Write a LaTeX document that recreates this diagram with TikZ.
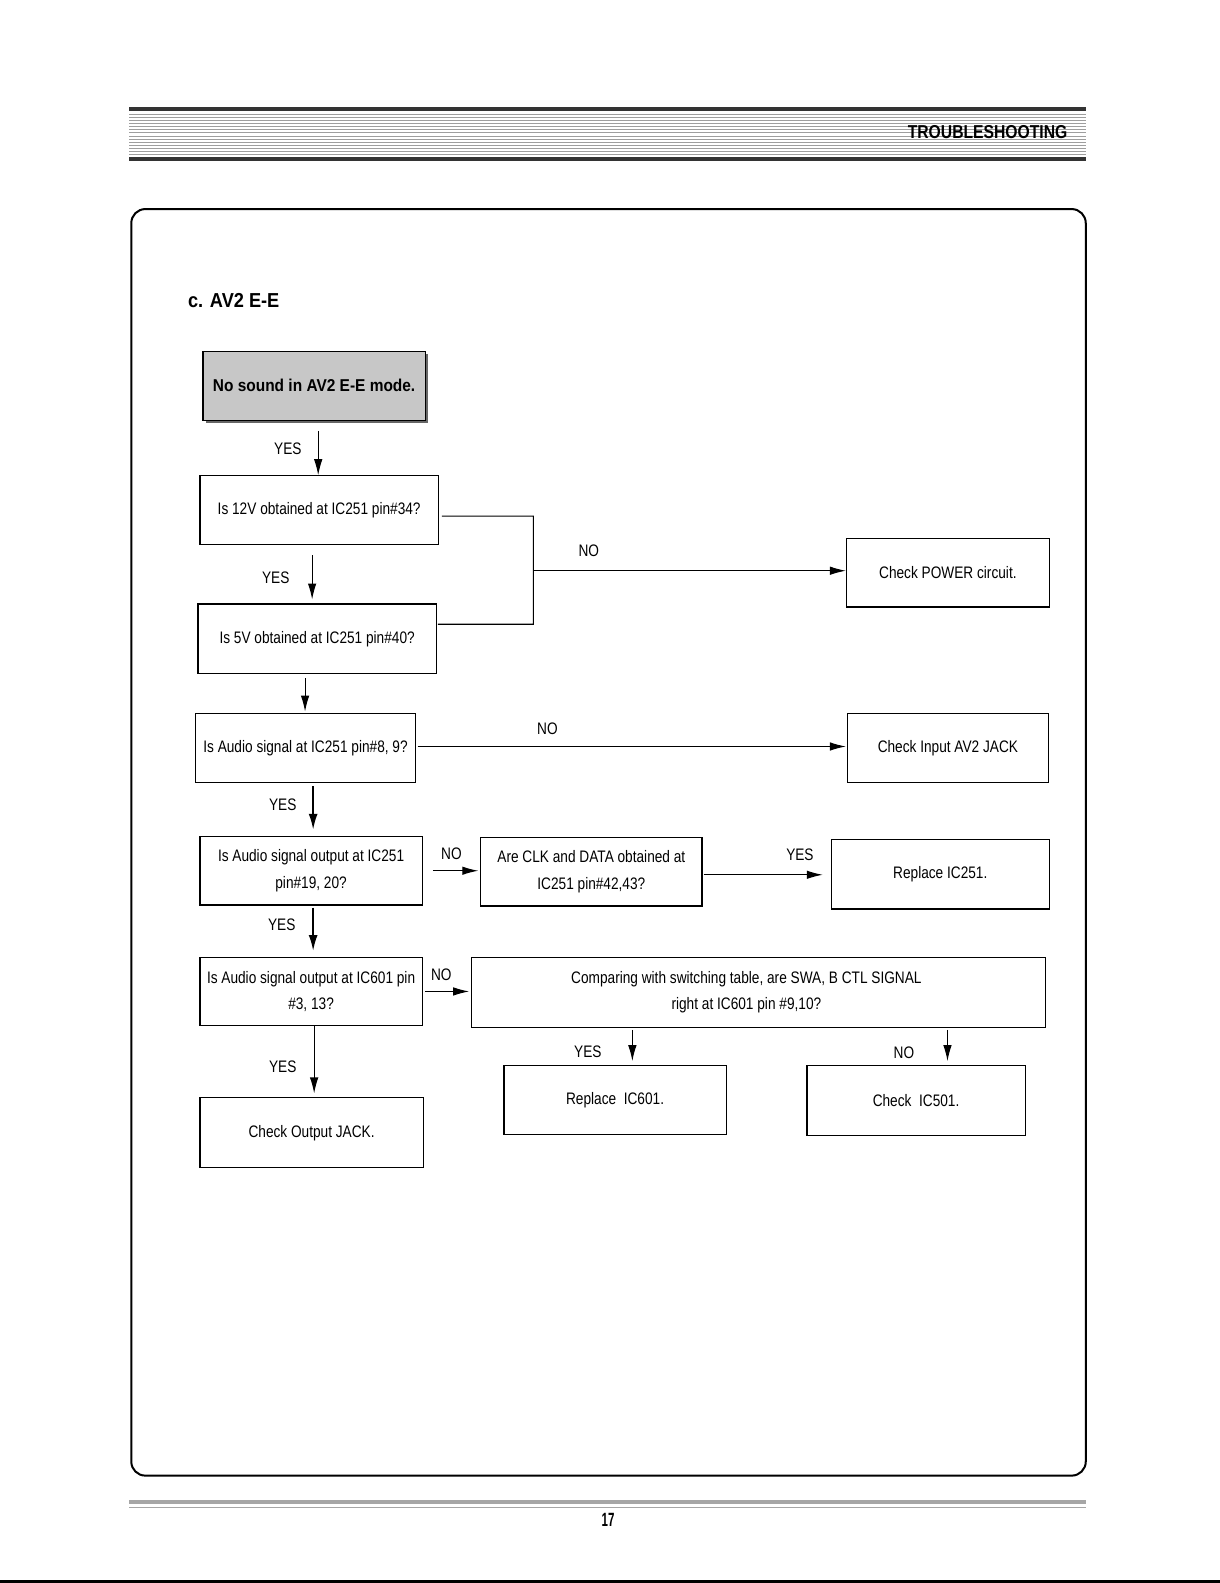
\documentclass[tikz,border=0pt]{standalone}
\usepackage{fontspec}
\setmainfont{Liberation Sans}[FakeStretch=0.82]
\newfontfamily\hdfont{Liberation Sans}[FakeStretch=0.9]
\newfontfamily\tbfont{Liberation Sans}[FakeStretch=0.84]
\newfontfamily\numfont{Liberation Sans}[FakeStretch=0.6]
\usetikzlibrary{arrows.meta,shadows}
\begin{document}
\begin{tikzpicture}[x=1pt,y=-1pt, scale=1.01, transform shape,
  box/.style={draw, line width=1.1pt, align=center, inner sep=0pt,
    font=\fontsize{16.5}{26}\selectfont},
  startbox/.style={draw, line width=1.1pt, fill=black!22, inner sep=0pt,
    font=\hdfont\bfseries\fontsize{17}{20}\selectfont,
    drop shadow={shadow xshift=3pt, shadow yshift=-3pt, fill=black!60, opacity=1}},
  lbl/.style={font=\fontsize{16.5}{20}\selectfont, inner sep=0pt},
  arr/.style={line width=1.1pt, -{Latex[length=16pt,width=8.5pt]}},
  tarr/.style={line width=2pt, -{Latex[length=16pt,width=9pt]}},
  wire/.style={line width=1.1pt},
]
\useasboundingbox (0,0) rectangle (1207.92,1567.33);

% header
\fill[black!80] (128,106) rectangle (1075,109.5);
\foreach \i in {0,...,13} \draw[black!38, line width=1pt] (128,{113+3.1*\i}) -- (1075,{113+3.1*\i});
\fill[black!80] (128,155.5) rectangle (1075,159);
\node[anchor=east, font=\tbfont\bfseries\fontsize{18.5}{20}\selectfont, inner sep=0pt] (hd) at (1057,131) {TROUBLESHOOTING};

% frame
\draw[line width=2pt, rounded corners=14pt] (130,207) rectangle (1075,1461);

% footer
\fill[black!35] (128,1485.5) rectangle (1075,1489);
\draw[black!35, line width=1pt] (128,1492.5) -- (1075,1492.5);
\node[font=\numfont\bfseries\fontsize{19}{20}\selectfont, inner sep=0pt] (pg) at (602,1505) {17};
\fill (0,1564.8) rectangle (1207.92,1567.33);

% title
\node[anchor=west, font=\hdfont\bfseries\fontsize{20}{24}\selectfont, inner sep=0pt] (title) at (186,298) {c. AV2 E-E};

% nodes
\node[startbox, minimum width=220pt, minimum height=68pt] (st) at (311,382) {No sound in AV2 E-E mode.};
\node[box, minimum width=236pt, minimum height=68pt] (A) at (316,505) {Is 12V obtained at IC251 pin\#34?};
\node[box, minimum width=236pt, minimum height=69pt] (B) at (314,632.5) {Is 5V obtained at IC251 pin\#40?};
\node[box, minimum width=217pt, minimum height=69pt] (C) at (302.5,740.5) {Is Audio signal at IC251 pin\#8, 9?};
\node[box, minimum width=220pt, minimum height=68pt] (D) at (308,862) {Is Audio signal output at IC251\\pin\#19, 20?};
\node[box, minimum width=220pt, minimum height=67pt] (E) at (308,981.5) {Is Audio signal output at IC601 pin\\\#3, 13?};
\node[box, minimum width=221pt, minimum height=69pt] (F) at (308.5,1121.5) {Check Output JACK.};
\node[box, minimum width=201pt, minimum height=68pt] (P) at (938.5,567) {Check POWER circuit.};
\node[box, minimum width=199pt, minimum height=69pt] (Q) at (938.5,740.5) {Check Input AV2 JACK};
\node[box, minimum width=219pt, minimum height=68pt] (R) at (585.5,863) {Are CLK and DATA obtained at\\IC251 pin\#42,43?};
\node[box, minimum width=216pt, minimum height=69pt] (S) at (931,865.5) {Replace IC251.};
\node[box, minimum width=568pt, minimum height=69pt] (T) at (751,982.5) {Comparing with switching table, are SWA, B CTL SIGNAL\hspace*{24pt}\\right at IC601 pin \#9,10?\hspace*{24pt}};
\node[box, minimum width=220pt, minimum height=68pt] (U) at (609,1089) {Replace\ \ IC601.};
\node[box, minimum width=216pt, minimum height=69pt] (V) at (907,1089.5) {Check\ \ IC501.};

% vertical connectors
\draw[arr, shorten <=10pt] ([xshift=4pt]st.south) -- ([xshift=4pt]st.south |- A.north);
\draw[arr, shorten <=10pt, shorten >=4pt] ([xshift=-7pt]A.south) -- ([xshift=-7pt]A.south |- B.north);
\draw[arr, shorten <=4pt, shorten >=1pt] ([xshift=-12pt]B.south) -- ([xshift=-12pt]B.south |- C.north);
\draw[tarr, shorten <=3pt, shorten >=6pt] ([xshift=7.5pt]C.south) -- ([xshift=7.5pt]C.south |- D.north);
\draw[tarr, shorten <=2pt, shorten >=6pt] ([xshift=2pt]D.south) -- ([xshift=2pt]D.south |- E.north);
\draw[arr, shorten >=4pt] ([xshift=3pt]E.south) -- ([xshift=3pt]E.south |- F.north);
\draw[arr, shorten <=2pt, shorten >=4pt] ([xshift=-125pt]T.south) -- ([xshift=-125pt]T.south |- U.north);
\draw[arr, shorten <=2pt, shorten >=4pt] ([xshift=187pt]T.south) -- ([xshift=187pt]T.south |- V.north);

% A/B to power
\coordinate (ja) at (528,511);
\coordinate (jb) at (528,618);
\coordinate (jm) at (528,565);
\draw[wire] ([xshift=3pt,yshift=-6pt]A.east) -- (ja) -- (jb) -- ([xshift=1pt,yshift=14.5pt]B.east);
\draw[arr] (jm) -- (jm -| P.west);

% horizontal connectors
\draw[arr, shorten <=2pt, shorten >=1pt] ([yshift=1.5pt]C.east) -- ([yshift=1.5pt]C.east -| Q.west);
\draw[arr, shorten <=10pt, shorten >=2pt] (D.east) -- (D.east -| R.west);
\draw[arr, shorten <=1pt, shorten >=8pt] ([yshift=-3pt]R.east) -- ([yshift=-3pt]R.east -| S.west);
\draw[arr, shorten <=2pt, shorten >=2pt] (E.east) -- (E.east -| T.west);

% labels
\node[lbl] (y1) at (285,444) {YES};
\node[lbl] (y2) at (273,572) {YES};
\node[lbl] (y3) at (280,797) {YES};
\node[lbl] (y4) at (279,916) {YES};
\node[lbl] (y5) at (280,1056) {YES};
\node[lbl] (y6) at (792,846) {YES};
\node[lbl] (y7) at (582,1041) {YES};
\node[lbl] (n1) at (583,545) {NO};
\node[lbl] (n2) at (542,722) {NO};
\node[lbl] (n3) at (447,845) {NO};
\node[lbl] (n4) at (437,965) {NO};
\node[lbl] (n5) at (895,1042) {NO};
\end{tikzpicture}
\end{document}
